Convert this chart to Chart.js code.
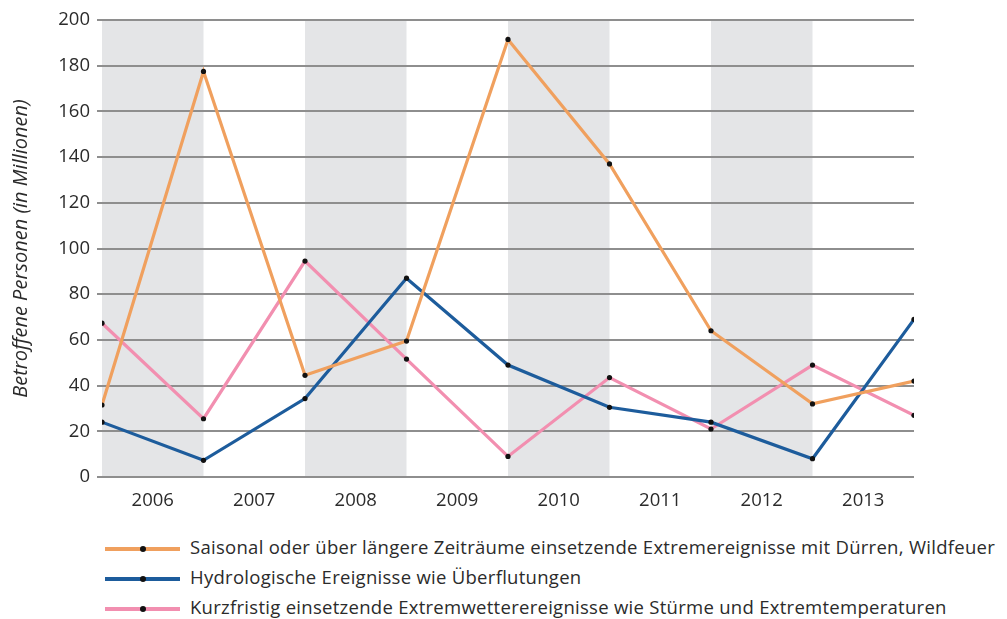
<!DOCTYPE html>
<html lang="de">
<head>
<meta charset="utf-8">
<title>Betroffene Personen 2006–2013</title>
<script src="https://cdn.jsdelivr.net/npm/chart.js@4"></script>
<style>
  html, body { margin: 0; padding: 0; background: #fff; }
  #wrap { position: relative; width: 1007px; height: 619px; }
  #chart-box { position: absolute; left: 0; top: 0; width: 1007px; height: 525px; }
  #legend { position: absolute; left: 105px; top: 532px; font-family: "Open Sans", sans-serif; font-size: 18.5px; letter-spacing: 0.28px; color: #2b2b2b; }
  #legend div { height: 30px; line-height: 29px; white-space: nowrap; }
  #legend .swatch { display: inline-block; position: relative; width: 75px; height: 4px; vertical-align: middle; margin-right: 10px; }
  #legend .swatch i { position: absolute; left: 35px; top: -1px; width: 6px; height: 6px; border-radius: 50%; background: #111; }
</style>
</head>
<body>
<div id="wrap">
  <div id="chart-box"><canvas id="chart"></canvas></div>
  <div id="legend"></div>
</div>
<script>
// years sit between the data points (one band per year)
const years = ['2006', '2007', '2008', '2009', '2010', '2011', '2012', '2013'];
const yTicks = [0, 20, 40, 60, 80, 100, 120, 140, 160, 180, 200];

const seriesNames = [
  'Saisonal oder über längere Zeiträume einsetzende Extremereignisse mit Dürren, Wildfeuer',
  'Hydrologische Ereignisse wie Überflutungen',
  'Kurzfristig einsetzende Extremwetterereignisse wie Stürme und Extremtemperaturen'
];
const seriesColors = ['#f0a05e', '#1d5c9c', '#f28fb0'];

// values at the 9 band edges (start of 2006 ... end of 2013)
const saisonal = [31.5, 177.5, 44.5, 59.5, 191.5, 137, 64, 32, 42];
const hydro = [24, 7.3, 34.3, 87, 49, 30.5, 24, 8, 69];
const kurz = [67.3, 25.5, 94.5, 51.6, 9, 43.5, 21, 49, 27];

const seriesValues = [saisonal, hydro, kurz];

const bandPlugin = {
  id: 'bands',
  beforeDraw(chart) {
    const { ctx, chartArea, scales } = chart;
    ctx.save();
    ctx.fillStyle = '#e4e5e7';
    for (let i = 0; i < years.length; i += 2) {
      const x0 = scales.x.getPixelForValue(i);
      const x1 = scales.x.getPixelForValue(i + 1);
      ctx.fillRect(x0, chartArea.top, x1 - x0, chartArea.bottom - chartArea.top);
    }
    ctx.restore();
  }
};

const datasets = seriesValues.map((vals, s) => ({
  label: seriesNames[s],
  data: vals.map((v, i) => ({ x: i, y: v })),
  borderColor: seriesColors[s],
  backgroundColor: seriesColors[s],
  borderWidth: 3.2,
  pointRadius: 2.6,
  pointBackgroundColor: '#111',
  pointBorderWidth: 0,
  pointHoverRadius: 3,
  tension: 0,
  order: s
}));

new Chart(document.getElementById('chart'), {
  type: 'line',
  data: { datasets },
  options: {
    responsive: true,
    maintainAspectRatio: false,
    animation: false,
    layout: { padding: { top: 20, right: 93, left: 0, bottom: 0 } },
    plugins: {
      legend: { display: false },
      tooltip: { enabled: false }
    },
    scales: {
      x: {
        type: 'linear',
        min: 0,
        max: years.length,
        afterBuildTicks(axis) {
          axis.ticks = years.map((y, i) => ({ value: i + 0.5 }));
        },
        afterFit(axis) { axis.height = 48; },
        grid: { display: false },
        border: { display: false },
        ticks: {
          autoSkip: false,
          maxRotation: 0,
          padding: 5,
          color: '#2b2b2b',
          font: { family: 'Open Sans', size: 18.5 },
          callback: (v) => years[Math.floor(v)]
        }
      },
      y: {
        min: 0,
        max: 200,
        afterBuildTicks(axis) {
          axis.ticks = yTicks.map(v => ({ value: v }));
        },
        afterFit(axis) { axis.width = 102; },
        grid: { color: '#8e8e8e', lineWidth: 2, tickLength: 5, drawTicks: true },
        border: { display: false },
        ticks: {
          padding: 7,
          color: '#2b2b2b',
          font: { family: 'Open Sans', size: 18.5 }
        },
        title: {
          display: true,
          text: 'Betroffene Personen (in Millionen)',
          color: '#2b2b2b',
          font: { family: 'Open Sans', size: 20, style: 'italic' },
          padding: { top: 9, bottom: 0 }
        }
      }
    }
  },
  plugins: [bandPlugin]
});

// legend below the chart
const legend = document.getElementById('legend');
seriesNames.forEach((name, s) => {
  const row = document.createElement('div');
  row.innerHTML = '<span class="swatch" style="background:' + seriesColors[s] + '"><i></i></span>' + name;
  legend.appendChild(row);
});
</script>
</body>
</html>
